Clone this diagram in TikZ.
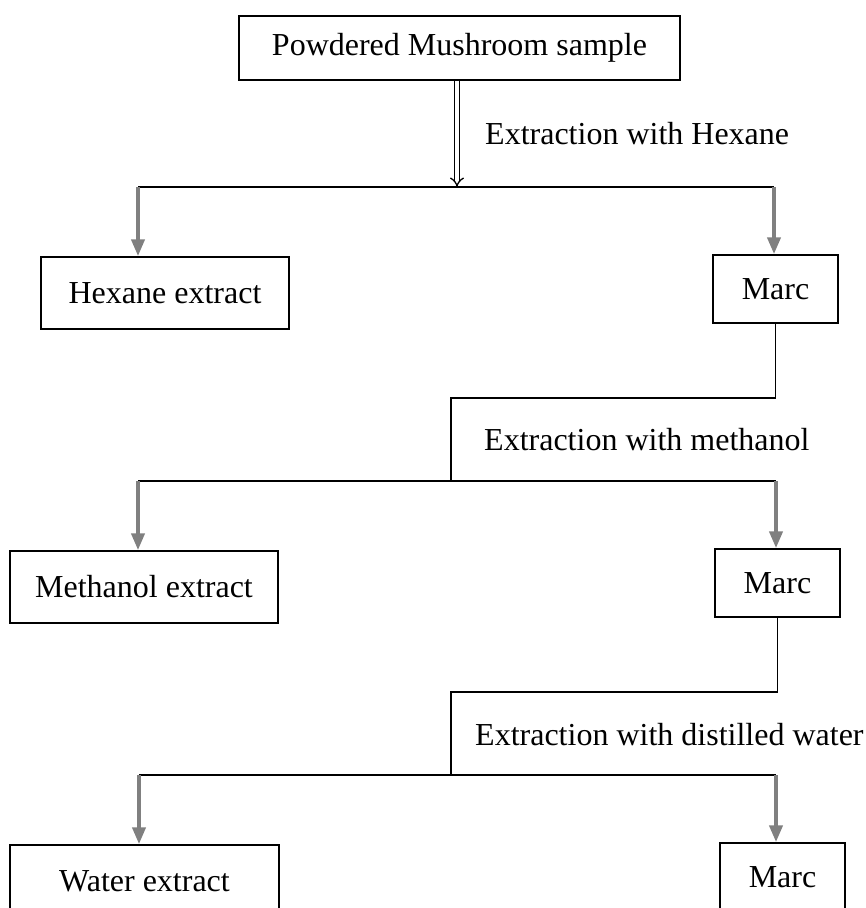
\documentclass[tikz,border=0pt]{standalone}
\usepackage{fontspec}
\setmainfont{Liberation Serif}
\usetikzlibrary{arrows.meta}

\begin{document}
\begin{tikzpicture}[
  x=1pt,y=-1pt,
  font=\fontsize{32}{38}\selectfont,
  proc/.style={draw,line width=1.5pt,minimum height=72pt,inner sep=0pt},
  marcbox/.style={proc,minimum width=125pt,minimum height=68pt},
  link/.style={line width=1.5pt},
  thinlink/.style={line width=1.1pt},
  drop/.style={draw=gray,line width=4pt,-{Triangle[width=13pt,length=17pt]}},
  stage/.style={anchor=west,inner sep=0pt}
]
\clip (0,0) rectangle (866,908);
\node[proc,minimum width=441pt,minimum height=64pt] (sample) at (459.5,48) {Powdered Mushroom sample};
\node[proc,minimum width=248pt] (hexane) at (165,293) {Hexane extract};
\node[marcbox] (marcA) at (775.5,289) {Marc};
\node[proc,minimum width=268pt] (methanol) at (144,587) {Methanol extract};
\node[marcbox] (marcB) at (777.5,583) {Marc};
\node[proc,minimum width=269pt] (water) at (144.5,881) {Water extract};
\node[marcbox] (marcC) at (782.5,877) {Marc};
\node[stage] (stepA) at (485,134) {Extraction with Hexane};
\node[stage] (stepB) at (484,440) {Extraction with methanol};
\node[stage] (stepC) at (475,735) {Extraction with distilled water};
% first split
\coordinate (jA) at (457,187);
\coordinate (lA) at (138,187);
\coordinate (rA) at (774,187);
\draw[line width=1.3pt,double distance=3.5pt,-{Implies}] (sample.south -| jA) -- (jA);
\draw[link] (lA) -- (rA);
\draw[drop] (lA) -- (lA |- hexane.north);
\draw[drop] (rA) -- (rA |- marcA.north);
% second split
\coordinate (cB) at (451,398);
\coordinate (lB) at (138,481);
\coordinate (rB) at (776,481);
\draw[thinlink] (marcA.south) |- (cB) -- (cB |- lB);
\draw[link] (lB) -- (rB);
\draw[drop] (lB) -- (lB |- methanol.north);
\draw[drop] (rB) -- (rB |- marcB.north);
% third split
\coordinate (cC) at (451,692);
\coordinate (lC) at (139,775);
\coordinate (rC) at (776,775);
\draw[thinlink] (marcB.south) |- (cC) -- (cC |- lC);
\draw[link] (lC) -- (rC);
\draw[drop] (lC) -- (lC |- water.north);
\draw[drop] (rC) -- (rC |- marcC.north);
\end{tikzpicture}
\end{document}
